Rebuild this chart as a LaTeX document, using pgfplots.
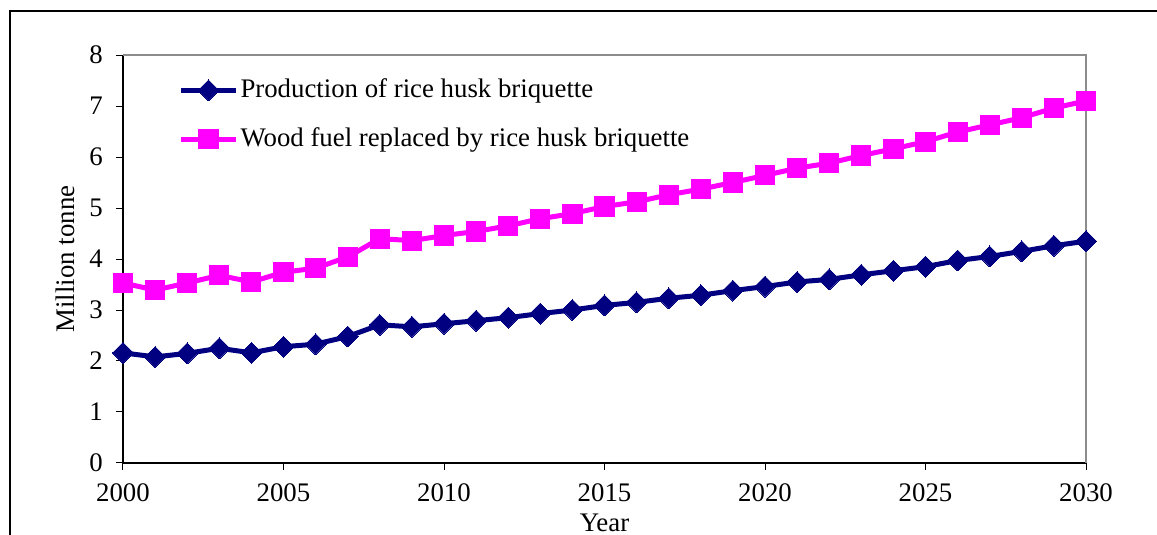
\documentclass[border=0pt]{standalone}
\usepackage{fontspec}
\setmainfont{Liberation Serif}
\usepackage{pgfplots}
\pgfplotsset{compat=1.18}
\definecolor{navy}{RGB}{0,0,128}
\definecolor{mag}{RGB}{255,0,255}
\begin{document}
\fontsize{13.4}{16}\selectfont
\begin{tikzpicture}
\begin{axis}[
  at={(0,0)}, anchor=south west,
  scale only axis, width=481.5pt, height=204pt,
  xmin=2000, xmax=2030, ymin=0, ymax=8,
  axis x line*=bottom, axis y line*=left,
  axis line style={black, line width=0.6pt},
  xtick={2000,2005,...,2030}, ytick={0,1,...,8},
  tick align=outside, major tick length=3.5pt,
  tick style={black, line width=0.5pt},
  /pgf/number format/assume math mode=true,
  /pgf/number format/set thousands separator={},
  xticklabel style={yshift=-2pt},
  yticklabel style={xshift=-2pt},
  xlabel={Year}, ylabel={Million tonne},
  every axis x label/.style={at={(axis description cs:0.5,-0.147)}, anchor=center},
  every axis y label/.style={at={(axis description cs:-0.0602,0.5)}, anchor=center, rotate=90},
  legend style={draw=none, fill=none, at={(axis description cs:0.051,0.957)}, anchor=north west,
    row sep=11pt, nodes={inner xsep=1pt, inner ysep=1pt}},
  legend cell align=left,
  legend image code/.code={\draw[#1, mark repeat=2, mark phase=2] plot coordinates {(0pt,0pt) (13.75pt,0pt) (27.5pt,0pt)};},
  clip=false,
]
\addplot[navy, line width=2.5pt, mark=square*, mark size=3.7pt, mark options={rotate=45, solid, line width=0pt}] coordinates {
(2000,2.16) (2001,2.08) (2002,2.15) (2003,2.25) (2004,2.16) (2005,2.28) (2006,2.33) (2007,2.48)
(2008,2.71) (2009,2.67) (2010,2.73) (2011,2.79) (2012,2.85) (2013,2.93) (2014,3.00) (2015,3.09)
(2016,3.15) (2017,3.23) (2018,3.29) (2019,3.38) (2020,3.46) (2021,3.55) (2022,3.60) (2023,3.69)
(2024,3.77) (2025,3.85) (2026,3.97) (2027,4.05) (2028,4.15) (2029,4.26) (2030,4.35)};
\addlegendentry{Production of rice husk briquette}
\addplot[mag, line width=2.5pt, mark=square*, mark size=4.8pt, mark options={solid, line width=0pt}] coordinates {
(2000,3.53) (2001,3.39) (2002,3.53) (2003,3.68) (2004,3.55) (2005,3.74) (2006,3.82) (2007,4.04)
(2008,4.40) (2009,4.36) (2010,4.46) (2011,4.54) (2012,4.65) (2013,4.79) (2014,4.89) (2015,5.03)
(2016,5.12) (2017,5.26) (2018,5.37) (2019,5.50) (2020,5.64) (2021,5.78) (2022,5.88) (2023,6.03)
(2024,6.16) (2025,6.30) (2026,6.49) (2027,6.63) (2028,6.77) (2029,6.96) (2030,7.10)};
\addlegendentry{Wood fuel replaced by rice husk briquette}
\draw[gray!90, line width=1pt] (rel axis cs:0,1) -- (rel axis cs:1,1) -- (rel axis cs:1,0);
\end{axis}
\pgfresetboundingbox
\useasboundingbox (-61.5pt,-36pt) rectangle (517pt,231.5pt);
\draw[black, line width=0.6pt] (-56.5pt,-50pt) -- (-56.5pt,226pt) -- (540pt,226pt);
\end{tikzpicture}
\end{document}
